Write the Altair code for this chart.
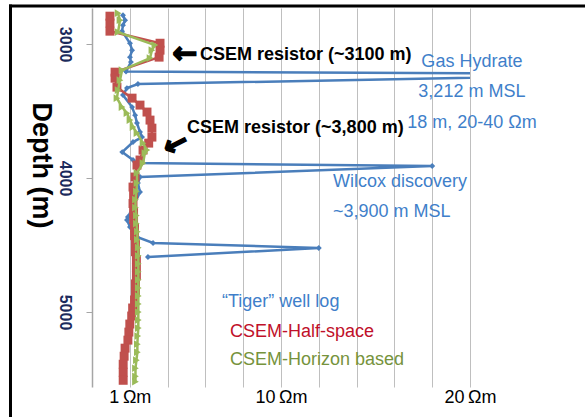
import altair as alt
import pandas as pd

SANS = "'Liberation Sans', Arial, sans-serif"

# "Tiger" well log (blue)
log_depth = [2784, 2821, 2858, 2903, 2993, 3045, 3097, 3134, 3205, 3225, 3298, 3328, 3380,
             3470, 3530, 3589, 3656, 3694, 3731, 3806, 3865, 3888, 3910, 3992, 4037, 4104,
             4216, 4291, 4313, 4365, 4440, 4485, 4522, 4589]
log_res = [1.64, 1.75, 1.64, 1.59, 2.01, 2.12, 2.01, 2.06, 1.8, 30.0, 2.43, 1.85, 1.64,
           2.12, 2.28, 2.38, 2.54, 2.65, 2.17, 1.6, 2.17, 2.38, 18.0, 2.54, 2.43, 2.54,
           2.17, 1.90, 1.85, 2.01, 2.38, 3.23, 12.0, 2.96]

# CSEM half-space (red)
hs_depth = [2791, 2843, 2903, 2993, 3045, 3097, 3209, 3254, 3321, 3403, 3455, 3507, 3567,
            3627, 3694, 3739, 3791, 3865, 3903, 3992, 4067, 4130, 4190, 4250, 4310, 4370,
            4430, 4490, 4550, 4610, 4670, 4730, 4790, 4850, 4910, 4970, 5030, 5090, 5150,
            5210, 5270, 5330, 5390, 5450, 5510]
hs_res = [0.95, 0.95, 0.95, 3.6, 3.6, 3.55, 1.22, 1.22, 1.32, 2.12, 2.54, 2.91, 3.07,
          3.17, 3.17, 3.0, 2.7, 2.54, 2.38, 2.28, 2.17, 2.2, 2.17, 2.2, 2.2, 2.25,
          2.25, 2.3, 2.3, 2.35, 2.35, 2.35, 2.3, 2.3, 2.25, 2.15, 2.1, 2.0, 1.95,
          1.9, 1.75, 1.7, 1.65, 1.65, 1.65]

# CSEM horizon based (green)
hz_depth = [2769, 2821, 2910, 3007, 3045, 3104, 3194, 3269, 3343, 3403, 3470, 3515, 3567,
            3619, 3664, 3739, 3791, 3813, 3888, 3962, 4037, 4100, 4160, 4220, 4280, 4340,
            4400, 4460, 4520, 4580, 4640, 4700, 4760, 4820, 4880, 4940, 5000, 5060, 5120,
            5180, 5240, 5300, 5360, 5420, 5480, 5520]
hz_res = [1.38, 1.48, 1.38, 3.33, 3.17, 3.07, 1.59, 1.48, 1.38, 1.32, 1.59, 1.85, 2.01,
          2.17, 2.38, 2.7, 2.91, 2.8, 2.7, 2.38, 2.38, 2.35, 2.3, 2.3, 2.35, 2.35,
          2.4, 2.4, 2.45, 2.45, 2.45, 2.45, 2.45, 2.45, 2.45, 2.45, 2.45, 2.45, 2.45,
          2.42, 2.4, 2.4, 2.35, 2.3, 2.3, 2.3]

# axis tick values / labels
grid_values = [2, 4, 6, 8, 10, 12, 14, 16, 18, 20]
x_label_values = [2, 10, 20]
x_label_texts = ["1\u2009\u03a9m", "10\u2009\u03a9m", "20\u2009\u03a9m"]
depth_ticks = [3000, 4000, 5000]

# annotations
black_res = [5.71, 5.03]
black_depth = [3081, 3626]
black_text = ["CSEM resistor (~3100 m)", "CSEM resistor (~3,800 m)"]

arrow_res = [4.92, 4.44]
arrow_depth = [3073, 3750]
arrow_angle = [0, 333]

left_res = [12.75, 12.75, 6.88, 7.30, 7.30]
left_depth = [4029, 4253, 4925, 5149, 5358]
left_text = ["Wilcox discovery", "~3,900 m MSL", "\u201cTiger\u201d well log",
             "CSEM-Half-space", "CSEM-Horizon based"]
left_color = ["#3f7fca", "#3f7fca", "#3f7fca", "#c0102a", "#76933c"]

gh_res = [20.1, 20.1, 20.1]
gh_depth = [3133, 3357, 3589]
gh_text = ["Gas Hydrate", "3,212 m MSL", "18 m, 20-40 \u03a9m"]

df_log = pd.DataFrame({"res": log_res, "depth": log_depth})
df_hs = pd.DataFrame({"res": hs_res, "depth": hs_depth})
df_hz = pd.DataFrame({"res": hz_res, "depth": hz_depth})

label_expr = " : ".join(
    f"datum.value == {v} ? '{t}'" for v, t in zip(x_label_values, x_label_texts)
) + " : ''"

x_axis = alt.Axis(values=grid_values, grid=True, gridColor="#bfbfbf", gridWidth=1,
                  domain=False, ticks=False, tickSize=0, labelExpr=label_expr,
                  labelFont=SANS, labelFontSize=18, labelColor="black",
                  labelBaseline="alphabetic", labelPadding=15, labelFlush=False,
                  labelOverlap=False, title=None)
y_axis = alt.Axis(values=depth_ticks, grid=False, domainColor="#a6a6a6", domainWidth=1.5,
                  tickColor="#a6a6a6", tickSize=6, labelAngle=90, labelAlign="center",
                  labelBaseline="top", labelFont=SANS, labelFontWeight="bold",
                  labelFontSize=16, labelColor="#1b2a5c", labelPadding=14, format="d",
                  title="Depth (m)", titleAngle=90, titleFont=SANS, titleFontSize=27,
                  titleFontWeight="bold", titleColor="black", titleX=-52, titleY=157,
                  titleAlign="center", titleBaseline="middle")

xscale = alt.Scale(domain=[0, 20], nice=False, zero=False)
yscale = alt.Scale(domain=[2730, 5560], reverse=True, nice=False, zero=False)
X = alt.X("res:Q", scale=xscale, axis=x_axis)
Y = alt.Y("depth:Q", scale=yscale, axis=y_axis)


def series(df, color, shape, size):
    line = alt.Chart(df).mark_line(color=color, strokeWidth=2.5, clip=True).encode(
        x=X, y=Y, order=alt.Order("depth:Q"))
    pts = alt.Chart(df).mark_point(shape=shape, size=size, filled=True, color=color,
                                   opacity=1, clip=True).encode(x=X, y=Y)
    return [line, pts]


layers = []
layers += series(df_log, "#4a7ebb", "diamond", 35)
layers += series(df_hs, "#c0504d", "square", 80)
layers += series(df_hz, "#9bbb59", "triangle-right", 60)

black_df = pd.DataFrame({"res": black_res, "depth": black_depth, "label": black_text})
layers.append(alt.Chart(black_df).mark_text(align="left", baseline="middle", font=SANS,
                                            fontSize=18, fontWeight="bold", color="black")
              .encode(x=X, y=Y, text="label:N"))

arrow_df = pd.DataFrame({"res": arrow_res, "depth": arrow_depth, "ang": arrow_angle,
                         "label": ["\u2190", "\u2190"]})
layers.append(alt.Chart(arrow_df).mark_text(align="center", baseline="middle",
                                            font="DejaVu Sans", fontSize=30, fontWeight="bold",
                                            color="black", stroke="black", strokeWidth=1.5)
              .encode(x=X, y=Y, text="label:N", angle=alt.Angle("ang:Q", scale=None)))

left_df = pd.DataFrame({"res": left_res, "depth": left_depth, "label": left_text,
                        "c": left_color})
layers.append(alt.Chart(left_df).mark_text(align="left", baseline="middle", font=SANS,
                                           fontSize=18)
              .encode(x=X, y=Y, text="label:N", color=alt.Color("c:N", scale=None)))

gh_df = pd.DataFrame({"res": gh_res, "depth": gh_depth, "label": gh_text})
layers.append(alt.Chart(gh_df).mark_text(align="center", baseline="middle", font=SANS,
                                         fontSize=18, color="#3f7fca")
              .encode(x=X, y=Y, text="label:N"))

frame = alt.Data(values=[{}])
layers.append(alt.Chart(frame).mark_rule(color="black", strokeWidth=3).encode(
    x=alt.value(-83), x2=alt.value(500), y=alt.value(-2)))
layers.append(alt.Chart(frame).mark_rule(color="black", strokeWidth=3).encode(
    x=alt.value(-81.5), y=alt.value(-3.5), y2=alt.value(420)))

chart = alt.layer(*layers).properties(
    width=378, height=379,
    autosize=alt.AutoSizeParams(type="none"),
    padding={"left": 92, "top": 8, "right": 115, "bottom": 30},
    background="white",
).configure_view(stroke=None)

chart.save("out.html", embed_options={"renderer": "svg", "actions": False})
